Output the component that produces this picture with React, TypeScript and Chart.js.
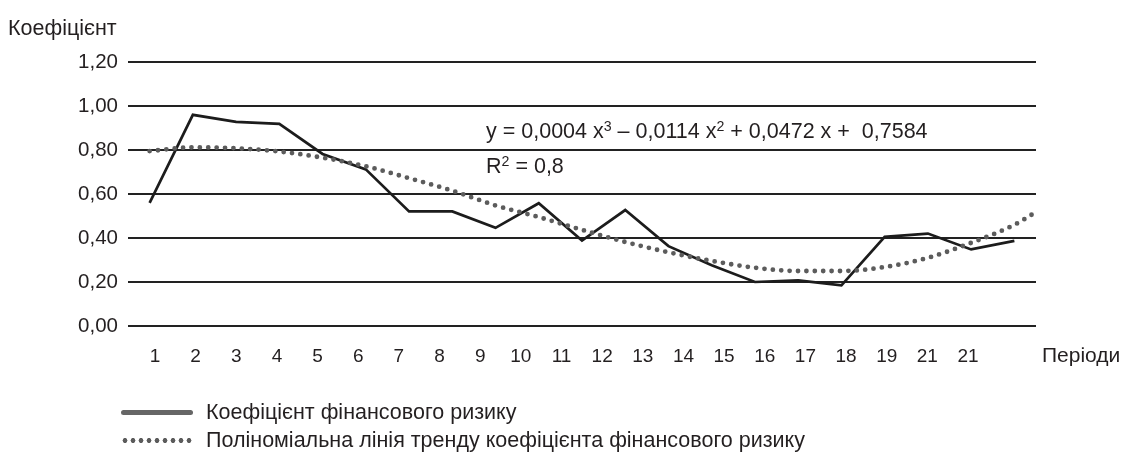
import React, { useEffect, useRef } from "react";
import { Chart, registerables } from "chart.js";

Chart.register(...registerables);

const periodLabels = ["1", "2", "3", "4", "5", "6", "7", "8", "9", "10", "11", "12", "13", "14", "15", "16", "17", "18", "19", "21", "21"];
const riskValues = [0.56, 0.96, 0.928, 0.919, 0.782, 0.712, 0.521, 0.521, 0.446, 0.558, 0.388, 0.527, 0.363, 0.276, 0.2, 0.207, 0.185, 0.405, 0.42, 0.348, 0.387];
const trendX = [1, 2, 3, 4, 5, 6, 7, 8, 9, 10, 11, 12, 13, 14, 15, 16, 17, 18, 19, 20, 21, 21.45];
const trendValues = [0.795, 0.812, 0.808, 0.793, 0.765, 0.726, 0.672, 0.615, 0.548, 0.495, 0.437, 0.382, 0.335, 0.296, 0.265, 0.25, 0.25, 0.268, 0.31, 0.378, 0.46, 0.512];
const yTicks = [0, 0.2, 0.4, 0.6, 0.8, 1.0, 1.2];

const FONT = "'Liberation Sans', Arial, sans-serif";
const TEXT = "#231f20";

export default function App() {
  const canvasRef = useRef<HTMLCanvasElement | null>(null);

  useEffect(() => {
    if (!canvasRef.current) return;
    const chart = new Chart(canvasRef.current, {
      type: "line",
      data: {
        datasets: [
          {
            label: "Коефіцієнт фінансового ризику",
            data: riskValues.map((v, i) => ({ x: i + 1, y: v })),
            borderColor: "#1c1c1c",
            borderWidth: 2.7,
            pointRadius: 0,
            tension: 0,
            order: 1,
          },
          {
            label: "Поліноміальна лінія тренду коефіцієнта фінансового ризику",
            data: trendX.map((x, i) => ({ x, y: trendValues[i] })),
            borderColor: "#5c5c5c",
            borderWidth: 4.8,
            borderDash: [0, 8.4],
            borderCapStyle: "round",
            pointRadius: 0,
            cubicInterpolationMode: "monotone",
            order: 0,
          },
        ],
      },
      options: {
        animation: false,
        responsive: false,
        devicePixelRatio: 1,
        layout: { padding: { left: 0, right: 87, top: 62, bottom: 101 } },
        plugins: { legend: { display: false }, tooltip: { enabled: false } },
        scales: {
          x: {
            type: "linear",
            display: false,
            min: 0.5,
            max: 21.5,
          },
          xl: {
            type: "linear",
            position: "bottom",
            min: 0.336,
            max: 22.673,
            afterBuildTicks: (scale: any) => {
              scale.ticks = periodLabels.map((_, i) => ({ value: i + 1 }));
            },
            afterFit: (scale: any) => {
              scale.height = 40;
            },
            ticks: {
              autoSkip: false,
              maxRotation: 0,
              padding: 11,
              color: TEXT,
              font: { family: FONT, size: 19 },
              callback: (v: any) => periodLabels[Math.round(Number(v)) - 1] ?? "",
            },
            grid: { display: false },
            border: { display: false },
          },
          y: {
            min: 0,
            max: 1.2,
            afterBuildTicks: (scale: any) => {
              scale.ticks = yTicks.map((v) => ({ value: v }));
            },
            afterFit: (scale: any) => {
              scale.width = 128;
            },
            ticks: {
              padding: 10,
              color: TEXT,
              font: { family: FONT, size: 20.5 },
              callback: (v: any) => Number(v).toFixed(2).replace(".", ","),
            },
            grid: { color: "#222222", lineWidth: 2, drawTicks: false },
            border: { display: false },
          },
        },
      },
    });
    return () => chart.destroy();
  }, []);

  const textBase: React.CSSProperties = {
    position: "absolute",
    fontFamily: FONT,
    color: TEXT,
    lineHeight: 1,
    whiteSpace: "pre",
  };
  const sup: React.CSSProperties = { fontSize: "0.66em", verticalAlign: "0.5em", lineHeight: 0 };

  return (
    <div style={{ position: "absolute", left: 0, top: 0, width: 1123, height: 467, background: "#fff", overflow: "hidden" }}>
      <canvas ref={canvasRef} width={1123} height={467} style={{ position: "absolute", left: 0, top: 0 }} />
      <div style={{ ...textBase, left: 8, top: 18, fontSize: 21.5 }}>Коефіцієнт</div>
      <div style={{ ...textBase, left: 1042, top: 344, fontSize: 21 }}>Періоди</div>
      <div style={{ ...textBase, left: 486, top: 121, fontSize: 21.5 }}>
        y = 0,0004 x<span style={sup}>3</span> – 0,0114 x<span style={sup}>2</span> + 0,0472 x +  0,7584
      </div>
      <div style={{ ...textBase, left: 486, top: 156, fontSize: 21.5 }}>
        R<span style={sup}>2</span> = 0,8
      </div>
      <div style={{ position: "absolute", left: 121, top: 409.5, width: 72, height: 5, background: "#666", borderRadius: 3 }} />
      <div style={{ ...textBase, left: 206, top: 402, fontSize: 21.5 }}>Коефіцієнт фінансового ризику</div>
      <div
        style={{
          position: "absolute",
          left: 121,
          top: 437.5,
          width: 72,
          height: 5,
          background: "radial-gradient(circle, #5c5c5c 2.2px, rgba(92,92,92,0) 2.7px) 0 0 / 8px 5px repeat-x",
        }}
      />
      <div style={{ ...textBase, left: 206, top: 430, fontSize: 21.5 }}>Поліноміальна лінія тренду коефіцієнта фінансового ризику</div>
    </div>
  );
}
